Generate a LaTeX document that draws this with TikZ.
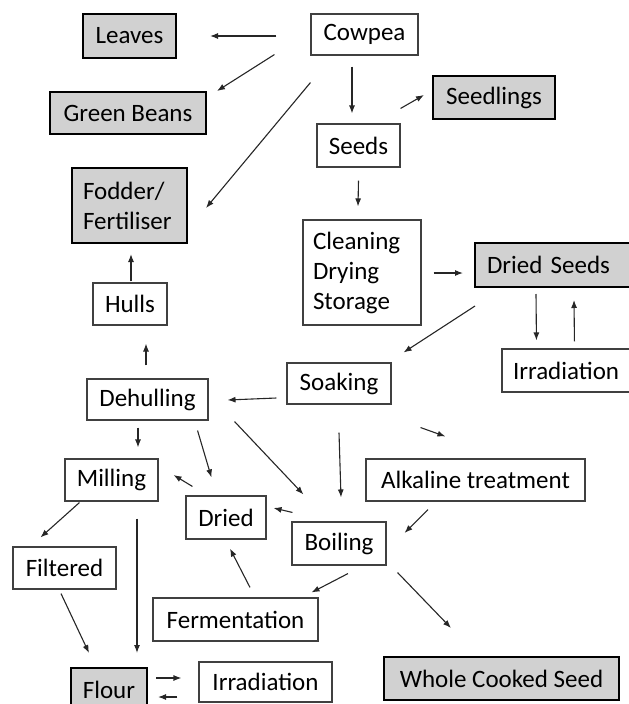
\documentclass[tikz,border=0pt]{standalone}
\usepackage{fontspec}
\setmainfont{Carlito}
\usetikzlibrary{arrows.meta}
\begin{document}
\begin{tikzpicture}[x=1pt,y=-1pt,
 base/.style={inner sep=0pt, font=\fontsize{25}{30}\selectfont},
 wbox/.style={base, draw=black!75, line width=1.1pt, fill=white},
 gbox/.style={base, draw=black, line width=2pt, fill=black!18},
 arr/.style={-{Latex[length=8pt,width=6pt]}, line width=1.1pt, draw=black!85},
]
\path[use as bounding box] (0,0) rectangle (629,704);
\clip (0,0) rectangle (629,704);
% nodes
\node[gbox, minimum width=93pt, minimum height=44pt] (leaves) at (129.5,36) {Leaves};
\node[gbox, minimum width=156pt, minimum height=42pt] (green) at (128,113) {Green Beans};
\node[gbox, minimum height=75pt, inner xsep=11pt, text width=93pt, align=left] (fodder) at (129.5,205.5) {Fodder/\\Fertiliser};
\node[wbox, minimum width=107pt, minimum height=41pt] (cowpea) at (364.5,34.5) {Cowpea};
\node[wbox, minimum width=83pt, minimum height=43pt] (seeds) at (358.5,145.5) {Seeds};
\node[gbox, minimum width=122pt, minimum height=43pt] (seedlings) at (494,97.5) {Seedlings};
\node[wbox, minimum height=105pt, inner xsep=10pt, text width=98pt, align=left] (cleaning) at (362,272.5) {Cleaning\\Drying\\Storage};
\node[gbox, minimum height=44pt, inner xsep=12pt, text width=141pt, align=left] (driedseeds) at (557.5,265) {Dried Seeds};
\node[wbox, minimum height=43pt, inner xsep=11pt, text width=128pt, align=left] (irrA) at (577,370.5) {Irradiation};
\node[wbox, minimum width=104pt, minimum height=41pt] (soaking) at (339,383.5) {Soaking};
\node[wbox, minimum width=219pt, minimum height=42pt] (alkaline) at (475.5,480) {Alkaline treatment};
\node[wbox, minimum width=74pt, minimum height=42pt] (hulls) at (130,304) {Hulls};
\node[wbox, minimum width=121pt, minimum height=41pt] (dehulling) at (147.5,399.5) {Dehulling};
\node[wbox, minimum width=93pt, minimum height=42pt] (milling) at (111.5,480) {Milling};
\node[wbox, minimum width=80pt, minimum height=43pt] (dried) at (226,517.5) {Dried};
\node[wbox, minimum width=94pt, minimum height=43pt] (boiling) at (339,543.5) {Boiling};
\node[wbox, minimum width=103pt, minimum height=42pt] (filtered) at (64.5,568) {Filtered};
\node[wbox, minimum width=165pt, minimum height=43pt] (fermentation) at (235.5,619.5) {Fermentation};
\node[gbox, minimum width=235pt, minimum height=43pt] (whole) at (501.5,678.5) {Whole Cooked Seed};
\node[gbox, minimum width=76pt, minimum height=44pt] (flour) at (109,690) {Flour};
\node[wbox, minimum width=133pt, minimum height=40pt] (irrB) at (265.5,682) {Irradiation};
% connectors
\draw[arr] ([shift={(-34,1.5)}]cowpea.west) -- ([shift={(33,0)}]leaves.east);
\draw[arr] ([shift={(-36,-1)}]cowpea.south west) -- ([shift={(10,0)}]green.north east);
\draw[arr] ([shift={(0,27)}]cowpea.south west) -- ([shift={(18,2.5)}]fodder.east);
\draw[arr] ([shift={(-12.5,11)}]cowpea.south) -- ([shift={(-6.5,-10)}]seeds.north);
\draw[arr] ([shift={(0,-15)}]seeds.north east) -- ([shift={(-8,-2.5)}]seedlings.west);
\draw[arr] ([shift={(0,13)}]seeds.south) -- ([shift={(-4,-13)}]cleaning.north);
\draw[arr] ([shift={(12,0.5)}]cleaning.east) -- ([shift={(-11,8)}]driedseeds.west);
\draw[arr] ([shift={(1,18)}]driedseeds.south west) -- ([shift={(12,-10)}]soaking.north east);
\draw[arr] ([shift={(62,6)}]driedseeds.south west) -- ([shift={(35,-8)}]irrA.north west);
\draw[arr] ([shift={(73,-7)}]irrA.north west) -- ([shift={(100,12)}]driedseeds.south west);
\draw[arr] ([shift={(-10,14.5)}]soaking.west) -- ([shift={(19,0.5)}]dehulling.east);
\draw[arr] ([shift={(29,23)}]soaking.south east) -- ([shift={(80,-22)}]alkaline.north west);
\draw[arr] ([shift={(0,28)}]soaking.south) -- ([shift={(2,-24)}]boiling.north);
\draw[arr] ([shift={(-1.5,-13)}]dehulling.north) -- ([shift={(16,18)}]hulls.south);
\draw[arr] ([shift={(1,-1)}]hulls.north) -- ([shift={(1.5,10)}]fodder.south);
\draw[arr] ([shift={(-9.5,7)}]dehulling.south) -- ([shift={(26.5,-11)}]milling.north);
\draw[arr] ([shift={(-11,10)}]dehulling.south east) -- ([shift={(26,-18)}]dried.north west);
\draw[arr] ([shift={(26,1)}]dehulling.south east) -- ([shift={(12,-27)}]boiling.north west);
\draw[arr] ([shift={(7,-9)}]dried.north west) -- ([shift={(15,-5)}]milling.east);
\draw[arr] ([shift={(1,-9)}]boiling.north west) -- ([shift={(7,-9.5)}]dried.east);
\draw[arr] ([shift={(-47.5,8)}]alkaline.south) -- ([shift={(18,-10.5)}]boiling.east);
\draw[arr] ([shift={(9,8)}]boiling.south) -- ([shift={(-7,-5)}]fermentation.north east);
\draw[arr] ([shift={(11,7)}]boiling.south east) -- ([shift={(68,-28)}]whole.north west);
\draw[arr] ([shift={(14.5,-10)}]fermentation.north) -- ([shift={(4,9)}]dried.south);
\draw[arr] ([shift={(15,1)}]milling.south west) -- ([shift={(28,-9)}]filtered.north west);
\draw[arr] ([shift={(25.5,17)}]milling.south) -- ([shift={(28,-14)}]flour.north);
\draw[arr] ([shift={(-3.5,4)}]filtered.south) -- ([shift={(-20,-14)}]flour.north);
\draw[arr] ([shift={(8,-12)}]flour.east) -- ([shift={(-17,-4)}]irrB.west);
\draw[arr] ([shift={(-21,15)}]irrB.west) -- ([shift={(10,7)}]flour.east);
\end{tikzpicture}
\end{document}
